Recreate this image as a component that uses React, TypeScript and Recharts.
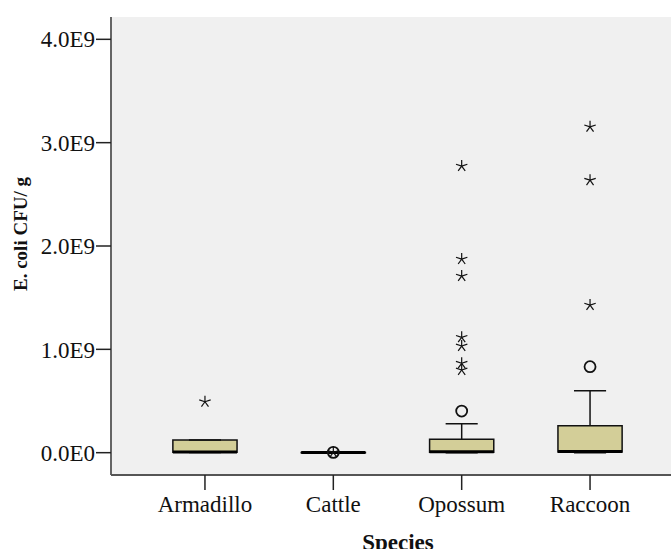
import React from 'react';
import {
  ComposedChart,
  XAxis,
  YAxis,
  CartesianGrid,
  Scatter,
  ReferenceArea,
  ReferenceLine,
  Label,
} from 'recharts';

// ---- data ----
const categories = ['Armadillo', 'Cattle', 'Opossum', 'Raccoon'];
const categoryPos = [1, 2, 3, 4];
const lowerWhisker = [0.002e9, 0.0, 0.0, 0.0];
const q1 = [0.005e9, 0.0005e9, 0.004e9, 0.006e9];
const median = [0.007e9, 0.001e9, 0.009e9, 0.011e9];
const q3 = [0.123e9, 0.0015e9, 0.129e9, 0.261e9];
const upperWhisker = [0.123e9, 0.002e9, 0.28e9, 0.6e9];

// outliers (circles)
const outlierCat = [2, 3, 4];
const outlierVal = [0.003e9, 0.403e9, 0.832e9];

// extremes (stars)
const extremeCat = [1, 2, 3, 3, 3, 3, 3, 3, 3, 4, 4, 4];
const extremeVal = [
  0.493e9, 0.003e9, 2.773e9, 1.873e9, 1.709e9, 1.116e9, 1.032e9, 0.865e9, 0.8e9,
  3.153e9, 2.637e9, 1.428e9,
];

const yTicks = [0, 1e9, 2e9, 3e9, 4e9];
const yTickLabels = ['0.0E0', '1.0E9', '2.0E9', '3.0E9', '4.0E9'];

const outlierData = outlierCat.map((c, i) => ({ x: c, y: outlierVal[i] }));
const extremeData = extremeCat.map((c, i) => ({ x: c, y: extremeVal[i] }));

const FONT = '"Liberation Serif", "Times New Roman", Times, serif';
const BOX_HALF = 0.25;
const CAP_HALF = 0.125;

const StarShape = (props: any) => {
  const { cx, cy } = props;
  if (cx == null || cy == null) return null;
  const r = 6;
  const angles = [-90, -18, 54, 126, 198];
  return (
    <g>
      {angles.map((a) => {
        const rad = (a * Math.PI) / 180;
        return (
          <line
            key={a}
            x1={cx}
            y1={cy}
            x2={cx + r * Math.cos(rad)}
            y2={cy + r * Math.sin(rad)}
            stroke="#111"
            strokeWidth={1.2}
          />
        );
      })}
    </g>
  );
};

const CircleShape = (props: any) => {
  const { cx, cy } = props;
  if (cx == null || cy == null) return null;
  return <circle cx={cx} cy={cy} r={5.5} fill="none" stroke="#111" strokeWidth={1.8} />;
};

const XTick = (props: any) => {
  const { x, y, payload } = props;
  const label = categories[categoryPos.indexOf(payload.value)] ?? '';
  return (
    <text
      x={x}
      y={y}
      dy="0.71em"
      textAnchor="middle"
      fill="#111"
      style={{ fontFamily: FONT, fontSize: 23 }}
    >
      {label}
    </text>
  );
};

const YTick = (props: any) => {
  const { x, y, payload } = props;
  const label = yTickLabels[yTicks.indexOf(payload.value)] ?? '';
  return (
    <text
      x={x}
      y={y}
      dy="0.355em"
      textAnchor="end"
      fill="#111"
      style={{ fontFamily: FONT, fontSize: 23 }}
    >
      {label}
    </text>
  );
};

export default function App() {
  return (
    <div
      style={{
        position: 'absolute',
        left: 0,
        top: 0,
        width: 671,
        height: 549,
        overflow: 'hidden',
        background: '#fff',
        fontFamily: FONT,
      }}
    >
      <ComposedChart
        width={700}
        height={570}
        margin={{ top: 17, right: 16, bottom: 35, left: 0 }}
        style={{ fontFamily: FONT }}
      >
        <CartesianGrid fill="#F0F0F0" horizontal={false} vertical={false} />
        <XAxis
          xAxisId="top"
          orientation="top"
          type="number"
          domain={[0.268, 4.732]}
          allowDataOverflow
          height={0}
          tick={false}
          tickLine={false}
          axisLine={{ stroke: '#555', strokeWidth: 1.8 }}
        />
        <XAxis
          dataKey="x"
          type="number"
          domain={[0.268, 4.732]}
          allowDataOverflow
          ticks={categoryPos}
          interval={0}
          height={60}
          tickSize={15}
          tickMargin={6}
          tickLine={{ stroke: '#222', strokeWidth: 1.5 }}
          axisLine={{ stroke: '#555', strokeWidth: 1.8 }}
          tick={<XTick />}
        >
          <Label
            content={() => (
              <text
                x={398}
                y={550}
                textAnchor="middle"
                fill="#111"
                style={{ fontFamily: FONT, fontWeight: 'bold', fontSize: 23 }}
              >
                Species
              </text>
            )}
          />
        </XAxis>
        <YAxis
          type="number"
          domain={[-0.216e9, 4.216e9]}
          allowDataOverflow
          ticks={yTicks}
          interval={0}
          width={111}
          tickSize={15}
          tickMargin={1}
          tickLine={{ stroke: '#222', strokeWidth: 1.5 }}
          axisLine={{ stroke: '#555', strokeWidth: 1.8 }}
          tick={<YTick />}
        >
          <Label
            content={() => (
              <text
                x={20}
                y={234}
                transform="rotate(-90, 20, 234)"
                textAnchor="middle"
                dominantBaseline="central"
                fill="#111"
                style={{ fontFamily: FONT, fontWeight: 'bold', fontSize: 19 }}
              >
                E. coli CFU/ g
              </text>
            )}
          />
        </YAxis>

        {categoryPos.map((p, i) => (
          <ReferenceArea
            key={`box-${i}`}
            x1={p - BOX_HALF}
            x2={p + BOX_HALF}
            y1={q1[i]}
            y2={q3[i]}
            fill="#D3CE98"
            fillOpacity={1}
            stroke="#111"
            strokeWidth={1.5}
            ifOverflow="visible"
          />
        ))}
        {categoryPos.map((p, i) => (
          <ReferenceLine
            key={`uw-${i}`}
            segment={[
              { x: p, y: q3[i] },
              { x: p, y: upperWhisker[i] },
            ]}
            stroke="#111"
            strokeWidth={1.5}
            ifOverflow="visible"
          />
        ))}
        {categoryPos.map((p, i) => (
          <ReferenceLine
            key={`uc-${i}`}
            segment={[
              { x: p - CAP_HALF, y: upperWhisker[i] },
              { x: p + CAP_HALF, y: upperWhisker[i] },
            ]}
            stroke="#111"
            strokeWidth={1.5}
            ifOverflow="visible"
          />
        ))}
        {categoryPos.map((p, i) => (
          <ReferenceLine
            key={`lw-${i}`}
            segment={[
              { x: p, y: q1[i] },
              { x: p, y: lowerWhisker[i] },
            ]}
            stroke="#111"
            strokeWidth={1.5}
            ifOverflow="visible"
          />
        ))}
        {categoryPos.map((p, i) => (
          <ReferenceLine
            key={`lc-${i}`}
            segment={[
              { x: p - CAP_HALF, y: lowerWhisker[i] },
              { x: p + CAP_HALF, y: lowerWhisker[i] },
            ]}
            stroke="#111"
            strokeWidth={1.5}
            ifOverflow="visible"
          />
        ))}
        {categoryPos.map((p, i) => (
          <ReferenceLine
            key={`med-${i}`}
            segment={[
              { x: p - BOX_HALF, y: median[i] },
              { x: p + BOX_HALF, y: median[i] },
            ]}
            stroke="#000"
            strokeWidth={3}
            ifOverflow="visible"
          />
        ))}

        <Scatter
          data={outlierData}
          dataKey="y"
          shape={CircleShape}
          isAnimationActive={false}
        />
        <Scatter
          data={extremeData}
          dataKey="y"
          shape={StarShape}
          isAnimationActive={false}
        />
      </ComposedChart>
    </div>
  );
}
